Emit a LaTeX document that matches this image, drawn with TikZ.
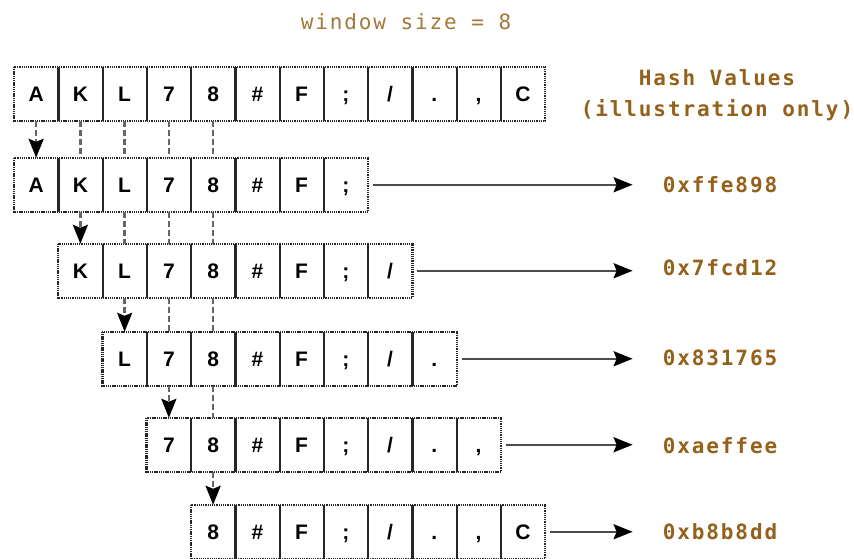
\documentclass[tikz,border=0pt]{standalone}
\usepackage{fontspec}
\setmainfont{Liberation Sans}
\newfontfamily\hashfont[LetterSpace=9]{DejaVu Sans Mono}
\usetikzlibrary{arrows.meta}
\definecolor{hashbrown}{HTML}{94601A}
\definecolor{winbrown}{HTML}{A47838}
\def\getch#1{\ifcase#1 A\or K\or L\or 7\or 8\or \#\or F\or ;\or /\or .\or ,\or C\fi}
\begin{document}
\begin{tikzpicture}[x=1pt,y=-1pt,
  cell/.style={minimum width=44.25pt,minimum height=53.5pt,inner sep=0pt,
    text height=15pt,text depth=0pt,
    font=\bfseries\fontsize{21}{24}\selectfont},
  outerbox/.style={draw=black!85,line width=2.4pt,dash pattern=on 1.3pt off 0.9pt},
  sepline/.style={draw=black!85,line width=2.4pt},
  vlink/.style={draw=black!60,line width=2.4pt,dash pattern=on 6pt off 3pt},
  vlinkarrow/.style={vlink,-{Stealth[length=19pt,width=15pt,inset=3pt,black]}},
  harrow/.style={draw=black!70,line width=2.4pt,shorten <=5pt,shorten >=30pt,
    -{Stealth[length=19pt,width=15pt,inset=3pt,black]}},
  hashlabel/.style={inner sep=0pt,text=hashbrown,
    font=\hashfont\bfseries\fontsize{21}{31}\selectfont},
]
\useasboundingbox (0,0) rectangle (854,558);

\node[inner sep=0pt,text=winbrown,font=\hashfont\fontsize{21}{24}\selectfont] (title) at (406,22) {window size = 8};
\node[hashlabel,align=center] (hv) at (717,95) {Hash Values\\(illustration only)};

% rows of cells
\foreach \r/\top in {0/67,1/158,2/244,3/332,4/418,5/505}{
  \pgfmathtruncatemacro\s{\r==0 ? 0 : \r-1}
  \pgfmathtruncatemacro\last{\r==0 ? 11 : \r+6}
  \foreach \idx in {\s,...,\last}{
    \node[cell] (c\r-\idx) at (14+44.25*\idx+22.125, \top+26.75) {\getch{\idx}};
  }
  \pgfmathtruncatemacro\lastm{\last-1}
  \foreach \idx in {\s,...,\lastm}{
    \draw[sepline] (c\r-\idx.north east) -- (c\r-\idx.south east);
  }
  \draw[outerbox] (c\r-\s.north west) rectangle (c\r-\last.south east);
}

% vertical dashed links
\foreach \r in {0,...,4}{
  \pgfmathtruncatemacro\rr{\r+1}
  \draw[vlinkarrow] (c\r-\r.south) -- (c\rr-\r.north);
  \ifnum\r<4
    \pgfmathtruncatemacro\rs{\r+1}
    \foreach \idx in {\rs,...,4}{
      \draw[vlink] (c\r-\idx.south) -- (c\rr-\idx.north);
    }
  \fi
}

% hash values and arrows
\foreach \r/\y/\h in {1/185/0xffe898,2/268/0x7fcd12,3/358/0x831765,4/446/0xaeffee,5/532/0xb8b8dd}{
  \pgfmathtruncatemacro\last{\r+6}
  \node[hashlabel] (h\r) at (720,\y) {\h};
  \draw[harrow] (c\r-\last.east) -- (c\r-\last.east -| h\r.west);
}
\end{tikzpicture}
\end{document}
